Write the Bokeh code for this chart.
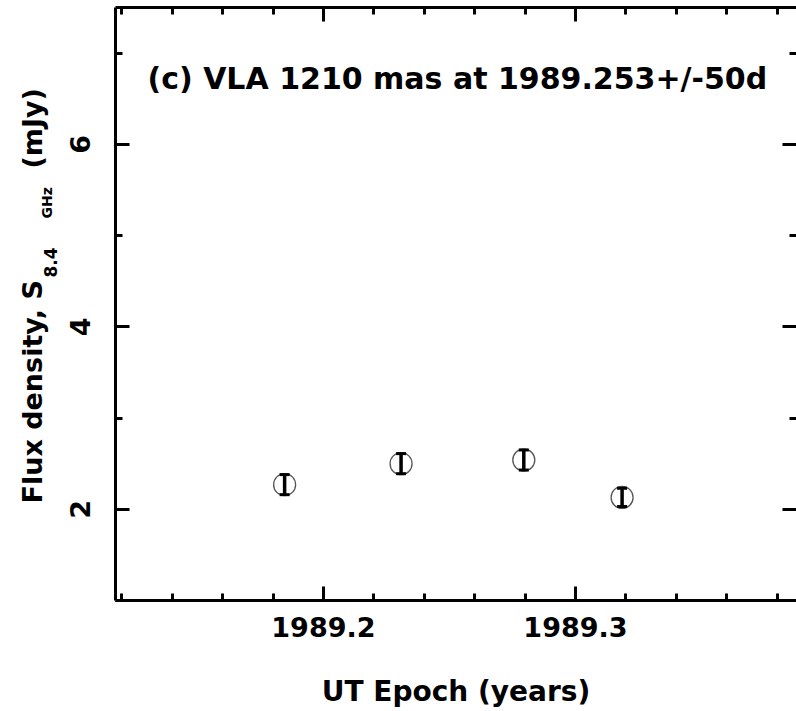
import math
from bokeh.plotting import figure
from bokeh.layouts import row
from bokeh.models import (Range1d, LinearAxis, SingleIntervalTicker, PrintfTickFormatter,
                          CustomJSTickFormatter, Label, ColumnDataSource)
from bokeh.embed import file_html
from bokeh.resources import INLINE

# ---- data ----
epoch = [1989.1846, 1989.2308, 1989.2795, 1989.3185]   # UT epoch (years)
flux = [2.27, 2.50, 2.54, 2.13]                        # S_8.4GHz (mJy)
flux_err = [0.11, 0.11, 0.11, 0.10]                    # 1-sigma errors (mJy)

x_major_interval = 0.1
y_major_interval = 2
title_text = "(c) VLA 1210 mas at 1989.253+/-50d"
x_label = "UT Epoch (years)"
y_label_main = "Flux density, S"
y_label_sub1 = "8.4"
y_label_sub2 = "GHz"
y_label_unit = "(mJy)"

FONT = "DejaVu Sans"
H = 711
LABEL_W = 62
MAIN_W = 796 - LABEL_W
FRAME_LEFT = 115
FRAME_TOP, FRAME_BOTTOM = 7, 600   # pixel rows of the plot frame

src = ColumnDataSource(dict(
    x=epoch, y=flux,
    upper=[f + e for f, e in zip(flux, flux_err)],
    lower=[f - e for f, e in zip(flux, flux_err)],
))

# ---------- narrow strip holding the rotated y-axis title ----------
# (its frame is aligned with the main frame by the row layout, so its y range
#  is set to pixel rows counted from the bottom of the page)
lab = figure(width=LABEL_W, height=H, output_backend="svg", toolbar_location=None,
             x_range=Range1d(0, LABEL_W), y_range=Range1d(H - FRAME_BOTTOM, H - FRAME_TOP),
             x_axis_location=None, y_axis_location=None,
             min_border_left=0, min_border_right=0, min_border_top=0, min_border_bottom=0)
lab.outline_line_color = None
lab.xgrid.visible = False
lab.ygrid.visible = False
lab.background_fill_color = "white"
lab.border_fill_color = "white"

ylab_kw = dict(x_units="data", y_units="data", angle=math.pi / 2,
               text_font=FONT, text_font_style="bold", text_color="black",
               text_align="left", text_baseline="middle")
lab.add_layout(Label(x=32, y=H - 503, text=y_label_main, text_font_size="27px", **ylab_kw))
lab.add_layout(Label(x=50, y=H - 277, text=y_label_sub1, text_font_size="17px", **ylab_kw))
lab.add_layout(Label(x=46, y=H - 218, text=y_label_sub2, text_font_size="14px", **ylab_kw))
lab.add_layout(Label(x=32, y=H - 168, text=y_label_unit, text_font_size="27px", **ylab_kw))

# ---------- main plot ----------
p = figure(width=MAIN_W, height=H, output_backend="svg", toolbar_location=None,
           x_range=Range1d(1989.1175, 1989.3877), y_range=Range1d(1.0, 7.5),
           x_axis_location=None, y_axis_location=None,
           min_border_left=FRAME_LEFT - LABEL_W, min_border_right=0, min_border_top=FRAME_TOP,
           min_border_bottom=H - FRAME_BOTTOM)
p.outline_line_color = None
p.xgrid.visible = False
p.ygrid.visible = False
p.background_fill_color = "white"
p.border_fill_color = "white"

blank = CustomJSTickFormatter(code="return ''")


def style_axis(ax, show_labels, show_line=True):
    ax.axis_line_width = 3
    ax.axis_line_color = "black" if show_line else None
    ax.major_tick_in = 14
    ax.major_tick_out = 0
    ax.minor_tick_in = 7
    ax.minor_tick_out = 0
    ax.major_tick_line_width = 3
    ax.minor_tick_line_width = 3
    ax.major_tick_line_color = "black"
    ax.minor_tick_line_color = "black"
    if show_labels:
        ax.major_label_text_font = FONT
        ax.major_label_text_font_style = "bold"
        ax.major_label_text_font_size = "27px"
        ax.major_label_text_color = "black"
    else:
        ax.formatter = blank
        ax.major_label_text_font_size = "1px"
        ax.major_label_standoff = 0


def xticker():
    return SingleIntervalTicker(interval=x_major_interval, num_minor_ticks=5)


def yticker():
    return SingleIntervalTicker(interval=y_major_interval, num_minor_ticks=2)


xb = LinearAxis(ticker=xticker(), formatter=PrintfTickFormatter(format="%.1f"))
style_axis(xb, True)
xb.major_label_standoff = 16
xb.axis_label = x_label
xb.axis_label_text_font = FONT
xb.axis_label_text_font_style = "bold"
xb.axis_label_text_font_size = "28px"
xb.axis_label_text_color = "black"
xb.axis_label_standoff = 35
p.add_layout(xb, "below")

xt = LinearAxis(ticker=xticker())
style_axis(xt, False)
p.add_layout(xt, "above")

yl = LinearAxis(ticker=yticker(), formatter=PrintfTickFormatter(format="%d"))
style_axis(yl, True)
yl.major_label_orientation = "parallel"
yl.major_label_standoff = 25
p.add_layout(yl, "left")

yr = LinearAxis(ticker=yticker())
style_axis(yr, False, show_line=False)
p.add_layout(yr, "right")

# data points: open circles with error bars (bar + caps)
p.scatter("x", "y", source=src, size=22, marker="circle", fill_color="white",
          line_color="#555555", line_width=1.3)
p.segment(x0="x", y0="lower", x1="x", y1="upper", source=src,
          line_color="black", line_width=3.5)
p.scatter("x", "upper", source=src, marker="dash", size=10, line_color="black", line_width=3)
p.scatter("x", "lower", source=src, marker="dash", size=10, line_color="black", line_width=3)

# panel title (screen units are relative to the plot frame)
p.add_layout(Label(x=32, y=522, x_units="screen", y_units="screen", text=title_text,
                   text_font=FONT, text_font_style="bold", text_font_size="30px",
                   text_color="black", text_align="left", text_baseline="alphabetic"))

layout = row(lab, p, spacing=0)
open("out.html", "w").write(file_html(layout, INLINE))
